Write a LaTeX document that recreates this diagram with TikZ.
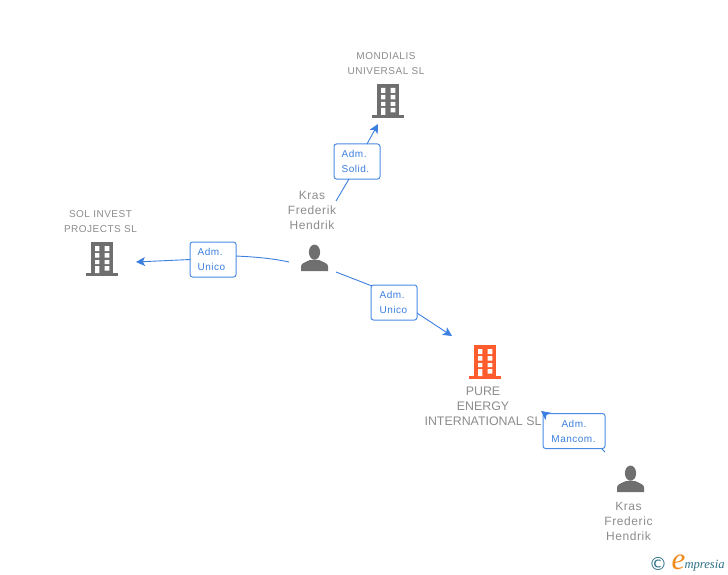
\documentclass[tikz,border=0pt]{standalone}
\usepackage{fontspec}
\setmainfont{Liberation Sans}
\newfontfamily\spacedfont[LetterSpace=5]{Liberation Sans}
\newfontfamily\dejafont{DejaVu Sans}
\newfontfamily\logofont{Liberation Serif}
\usetikzlibrary{arrows.meta}
\definecolor{iconGray}{HTML}{6F6F6F}
\definecolor{textGray}{HTML}{8C8C8C}
\definecolor{linkBlue}{HTML}{3B7FDF}
\definecolor{boxBlue}{HTML}{4A8BE5}
\definecolor{hotOrange}{HTML}{FF5C2E}
\definecolor{logoTeal}{HTML}{2A6F86}
\definecolor{logoOrange}{HTML}{F08A1D}
\tikzset{
  x=1pt,y=-1pt,
  every node/.style={inner sep=0pt,outer sep=0pt},
  rolebox/.style={draw=boxBlue,line width=1pt,rounded corners=2.5pt,fill=white,minimum height=35pt,
     text=linkBlue,font=\fontsize{10}{15}\spacedfont},
  namelabel/.style={align=center,text=textGray,font=\fontsize{12}{15}\spacedfont},
  firmlabel/.style={align=center,text=textGray,font=\fontsize{10}{15}\spacedfont},
  link/.style={draw=linkBlue,line width=.9pt},
  linkarrow/.style={link,-{Stealth[length=9pt,width=9pt,inset=2.2pt]}},
  pics/firm/.style={code={
    \fill[#1] (-11,0) rectangle (11,31);
    \fill[#1] (-16,31) rectangle (16,34);
    \fill[white] (-7,4) rectangle (-2.7,9) (2.7,4) rectangle (7.3,9)
                 (-7,11) rectangle (-2.7,15.5) (2.7,11) rectangle (7.3,15.5)
                 (-7,18) rectangle (-2.7,22) (2.7,18) rectangle (7.3,22)
                 (-7,24) rectangle (-2.7,31) (2.7,24) rectangle (7.3,28.5);
  }},
  pics/person/.style={code={
    \fill[iconGray] (0,8.2) ellipse (5.6 and 7.6);
    \fill[iconGray] (-13.5,27) -- (-13.5,22.5) .. controls (-13.5,19.5) and (-10,18.5) .. (-4.5,16)
       -- (4.5,16) .. controls (10,18.5) and (13.5,19.5) .. (13.5,22.5) -- (13.5,27) -- cycle;
  }}
}
\begin{document}
\begin{tikzpicture}
\useasboundingbox (0,0) rectangle (728,575);
% icons
\pic at (388,84) {firm=iconGray};
\pic at (102,242) {firm=iconGray};
\pic at (485,345) {firm=hotOrange};
\pic at (314.5,244) {person};
\pic at (630.5,465) {person};
% texts
\node[firmlabel] (mondialis) at (386,63.5) {MONDIALIS\\UNIVERSAL SL};
\node[firmlabel] (sol) at (100.5,222) {SOL INVEST\\PROJECTS SL};
\node[namelabel] (krasA) at (312,210.5) {Kras\\Frederik\\Hendrik};
\node[namelabel,font=\fontsize{12.4}{15}\selectfont] (pure) at (483,406) {PURE\\ENERGY\\INTERNATIONAL SL};
\node[namelabel] (krasB) at (628.5,521) {Kras\\Frederic\\Hendrik};
% role boxes
\node[rolebox,minimum width=46pt,align=left] (solid) at (357,161.5) {Adm.\\Solid.\hspace*{3pt}};
\node[rolebox,minimum width=46pt,align=left] (unicoL) at (213,259.5) {Adm.\\Unico\hspace*{3pt}};
\node[rolebox,minimum width=46pt,align=left] (unicoR) at (394,302.5) {Adm.\\Unico\hspace*{1pt}};
\node[rolebox,minimum width=62pt,align=center] (mancom) at (574,431) {Adm.\\Mancom.\hspace*{1pt}};
% free ends
\coordinate (solidTail) at (336,201);
\coordinate (solidBoxIn) at (349,179);
\coordinate (solidBoxOut) at (367,144);
\coordinate (solidTip) at (378,124);
\coordinate (uLTail) at (289,262);
\coordinate (uLBoxIn) at (236,256);
\coordinate (uLBoxOut) at (190,259.5);
\coordinate (uLTip) at (136,262);
\coordinate (uRTail) at (336,272);
\coordinate (uRBoxIn) at (372,286);
\coordinate (uRBoxOut) at (417,313);
\coordinate (uRTip) at (452,336);
\coordinate (mTail) at (605,452);
\coordinate (mBoxIn) at (602,449);
\coordinate (mBoxOut) at (545,414);
\coordinate (mTip) at (541,411);
% connectors
\draw[link] (solidTail) -- (solidBoxIn);
\draw[linkarrow] (solidBoxOut) -- (solidTip);
\draw[link] (uLTail) .. controls (270,258) and (255,257) .. (uLBoxIn);
\draw[linkarrow] (uLBoxOut) -- (uLTip);
\draw[link] (uRTail) -- (uRBoxIn);
\draw[linkarrow] (uRBoxOut) -- (uRTip);
\draw[link] (mTail) -- (mBoxIn);
\draw[linkarrow] (mBoxOut) -- (mTip);
% logo
\node[text=logoTeal,anchor=center,font=\fontsize{18}{18}\dejafont] (copyr) at (658,564) {©};
\node[text=logoOrange,anchor=base west,font=\fontsize{31}{31}\logofont\itshape] (logoE) at (671.5,569) {e};
\node[text=logoTeal,anchor=base west,font=\fontsize{12.6}{14}\logofont\itshape] (logoT) at (684.5,568) {mpresia};
\end{tikzpicture}
\end{document}
